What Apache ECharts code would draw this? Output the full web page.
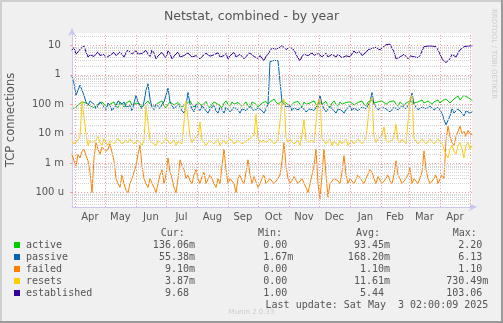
<!DOCTYPE html>
<html>
<head>
<meta charset="utf-8">
<script src="https://cdn.jsdelivr.net/npm/echarts@6/dist/echarts.min.js"></script>
<style>
  html, body { margin: 0; padding: 0; background: #f0f0f0; }
  #chart { width: 503px; height: 323px; }
</style>
</head>
<body>
<div id="chart"></div>
<script>
// ---- time frame: 400 days ending at the last update, one sample every 2 days ----
const rangeStart = Date.UTC(2024, 2, 29, 2, 0, 0);
const rangeEnd = Date.UTC(2025, 4, 3, 2, 0, 0);
const sampleStepDays = 2;

// month boundaries (grid lines) and month names (labels between them)
const monthStarts = ['2024-04-01', '2024-05-01', '2024-06-01', '2024-07-01', '2024-08-01',
  '2024-09-01', '2024-10-01', '2024-11-01', '2024-12-01', '2025-01-01', '2025-02-01',
  '2025-03-01', '2025-04-01', '2025-05-01'];
const monthNames = ['Apr', 'May', 'Jun', 'Jul', 'Aug', 'Sep', 'Oct', 'Nov', 'Dec', 'Jan', 'Feb', 'Mar', 'Apr'];

// logarithmic y scale: decades with their SI labels (unit slot kept blank for plain numbers)
const decadeExponents = [-4, -3, -2, -1, 0, 1];
const decadeLabels = ['100 u', '1 m', '10 m', '100 m', '1 ', '10 '];

// ---- series values (TCP connections) ----
const active = [
  0.07, 0.06, 0.08, 0.095, 0.1, 0.12, 0.13, 0.11, 0.12, 0.09, 0.1, 0.075, 0.08, 0.1, 0.09, 0.12, 0.11, 0.085, 0.08, 0.1,
  0.1, 0.12, 0.09, 0.075, 0.12, 0.1, 0.08, 0.11, 0.1, 0.13, 0.09, 0.08, 0.11, 0.125, 0.1, 0.08, 0.09, 0.11, 0.13, 0.1,
  0.1, 0.085, 0.08, 0.11, 0.11, 0.13, 0.09, 0.075, 0.1, 0.12, 0.12, 0.095, 0.09, 0.115, 0.1, 0.08, 0.08, 0.1, 0.11, 0.13,
  0.1, 0.08, 0.09, 0.115, 0.11, 0.09, 0.1, 0.125, 0.09, 0.075, 0.1, 0.12, 0.12, 0.1, 0.09, 0.075, 0.11, 0.13, 0.1, 0.085,
  0.12, 0.1, 0.09, 0.115, 0.11, 0.085, 0.1, 0.12, 0.09, 0.075, 0.12, 0.135, 0.1, 0.08, 0.09, 0.11, 0.11, 0.125, 0.1, 0.12,
  0.13, 0.15, 0.12, 0.1, 0.11, 0.13, 0.14, 0.11, 0.1, 0.085, 0.09, 0.115, 0.11, 0.125, 0.1, 0.08, 0.12, 0.1, 0.09, 0.11,
  0.11, 0.13, 0.1, 0.08, 0.12, 0.1, 0.1, 0.125, 0.09, 0.075, 0.11, 0.13, 0.1, 0.085, 0.12, 0.1, 0.09, 0.115, 0.1, 0.12,
  0.12, 0.095, 0.09, 0.115, 0.11, 0.13, 0.1, 0.085, 0.12, 0.14, 0.14, 0.11, 0.1, 0.12, 0.11, 0.13, 0.12, 0.1, 0.1, 0.125,
  0.11, 0.13, 0.1, 0.085, 0.12, 0.14, 0.09, 0.11, 0.11, 0.13, 0.13, 0.11, 0.1, 0.12, 0.12, 0.14, 0.11, 0.095, 0.13, 0.15,
  0.1, 0.12, 0.12, 0.14, 0.11, 0.13, 0.12, 0.15, 0.13, 0.11, 0.12, 0.15, 0.16, 0.19, 0.14, 0.17, 0.2, 0.18, 0.17, 0.15,
  0.136];
const passive = [
  0.9, 0.5, 0.2, 0.3, 0.45, 0.3, 0.2, 0.12, 0.09, 0.13, 0.15, 0.1, 0.07, 0.09, 0.12, 0.1, 0.08, 0.065, 0.11, 0.09,
  0.06, 0.075, 0.09, 0.13, 0.14, 0.1, 0.12, 0.08, 0.07, 0.09, 0.06, 0.11, 0.2, 0.12, 0.09, 0.07, 0.12, 0.3, 0.5, 0.15,
  0.08, 0.065, 0.1, 0.085, 0.07, 0.1, 0.12, 0.2, 0.35, 0.12, 0.09, 0.07, 0.06, 0.1, 0.08, 0.06, 0.05, 0.09, 0.25, 0.1,
  0.07, 0.055, 0.1, 0.075, 0.06, 0.09, 0.08, 0.06, 0.05, 0.07, 0.07, 0.09, 0.06, 0.05, 0.08, 0.065, 0.05, 0.08, 0.07, 0.055,
  0.06, 0.08, 0.09, 0.065, 0.05, 0.07, 0.08, 0.06, 0.06, 0.085, 0.09, 0.06, 0.06, 0.075, 0.08, 0.06, 0.05, 0.07, 0.1, 2.8,
  3.0, 3.1, 3.2, 3.0, 2.8, 0.12, 0.1, 0.08, 0.07, 0.09, 0.06, 0.075, 0.08, 0.065, 0.06, 0.08, 0.07, 0.055, 0.05, 0.07,
  0.08, 0.06, 0.06, 0.1, 0.2, 0.1, 0.07, 0.055, 0.06, 0.085, 0.08, 0.06, 0.05, 0.07, 0.08, 0.06, 0.05, 0.065, 0.07, 0.09,
  0.06, 0.075, 0.08, 0.06, 0.06, 0.08, 0.09, 0.07, 0.07, 0.12, 0.25, 0.1, 0.08, 0.065, 0.06, 0.08, 0.09, 0.07, 0.07, 0.055,
  0.06, 0.08, 0.08, 0.065, 0.07, 0.09, 0.09, 0.07, 0.06, 0.12, 0.24, 0.1, 0.08, 0.065, 0.06, 0.08, 0.09, 0.07, 0.07, 0.085,
  0.08, 0.065, 0.06, 0.08, 0.09, 0.05, 0.03, 0.02, 0.02, 0.04, 0.07, 0.05, 0.05, 0.07, 0.08, 0.05, 0.04, 0.06, 0.07, 0.05,
  0.055];
const failed = [
  0.002, 0.0012, 0.0008, 0.002, 0.0015, 0.0025, 0.003, 0.0018, 0.0012, 0.0005, 0.0001, 0.0015, 0.005, 0.003, 0.002, 0.0035, 0.004, 0.0025, 0.003, 0.0045,
  0.004, 0.0012, 0.0003, 0.0002, 0.00015, 0.0004, 0.0002, 0.00012, 0.0001, 0.0002, 0.0003, 0.0005, 0.0008, 0.002, 0.004, 0.0008, 0.0003, 0.0002, 0.00015, 0.0003,
  0.0003, 0.00015, 0.0001, 0.0002, 0.0004, 0.0006, 0.0002, 0.0004, 0.0015, 0.0005, 0.0003, 0.00015, 0.0001, 0.0003, 0.0013, 0.0008, 0.0006, 0.0003, 0.0004, 0.00025,
  0.0002, 0.0004, 0.0006, 0.0003, 0.0002, 0.00035, 0.0005, 0.0002, 0.0002, 0.0004, 0.0003, 0.0002, 0.00015, 0.0003, 0.0002, 0.0008, 0.003, 0.0006, 0.0002, 0.0003,
  0.0003, 0.0002, 0.0001, 0.0003, 0.0004, 0.00025, 0.0002, 0.0005, 0.0013, 0.0004, 0.0002, 0.00035, 0.0003, 0.00015, 0.0002, 0.0003, 0.0004, 0.0002, 0.0002, 0.0003,
  0.0003, 0.0002, 0.0002, 0.0003, 0.0004, 0.0012, 0.005, 0.0008, 0.0003, 0.0002, 0.0002, 0.00035, 0.0004, 0.0002, 0.0002, 0.0003, 0.0003, 0.00015, 0.0001, 0.0002,
  0.0002, 0.0008, 0.003, 0.0002, 0.00006, 0.0004, 0.003, 0.0004, 0.00007, 0.0002, 0.0002, 0.0003, 0.0003, 0.00025, 0.0002, 0.0005, 0.0018, 0.0004, 0.0002, 0.0003,
  0.0003, 0.0002, 0.0002, 0.0004, 0.0004, 0.00025, 0.0002, 0.0003, 0.0003, 0.0006, 0.0005, 0.0003, 0.0002, 0.00035, 0.0003, 0.0002, 0.0002, 0.0003, 0.0004, 0.00025,
  0.0002, 0.0004, 0.0012, 0.0004, 0.0003, 0.0002, 0.0002, 0.0003, 0.0004, 0.0007, 0.0002, 0.0003, 0.0003, 0.0002, 0.0002, 0.0005, 0.0026, 0.0006, 0.0003, 0.0002,
  0.0002, 0.0003, 0.0004, 0.0002, 0.0002, 0.0004, 0.0003, 0.006, 0.018, 0.008, 0.005, 0.004, 0.008, 0.012, 0.018, 0.01, 0.012, 0.008, 0.013, 0.01,
  0.0091];
const resets = [
  0.006, 0.0045, 0.005, 0.006, 0.008, 0.13, 0.14, 0.01, 0.004, 0.006, 0.005, 0.0045, 0.006, 0.008, 0.005, 0.004, 0.007, 0.005, 0.004, 0.006,
  0.006, 0.0045, 0.005, 0.007, 0.006, 0.0045, 0.004, 0.006, 0.005, 0.0065, 0.006, 0.0045, 0.005, 0.006, 0.005, 0.004, 0.006, 0.09, 0.09, 0.006,
  0.005, 0.0045, 0.004, 0.006, 0.006, 0.0045, 0.005, 0.007, 0.006, 0.0045, 0.005, 0.006, 0.004, 0.0055, 0.006, 0.0045, 0.005, 0.13, 0.15, 0.008,
  0.005, 0.0065, 0.006, 0.009, 0.025, 0.006, 0.005, 0.004, 0.004, 0.006, 0.006, 0.0045, 0.005, 0.0065, 0.004, 0.005, 0.006, 0.0045, 0.005, 0.007,
  0.007, 0.0045, 0.005, 0.006, 0.006, 0.0045, 0.004, 0.0055, 0.005, 0.007, 0.006, 0.009, 0.045, 0.007, 0.005, 0.0045, 0.006, 0.005, 0.005, 0.0065,
  0.006, 0.0045, 0.005, 0.006, 0.006, 0.12, 0.15, 0.008, 0.005, 0.0065, 0.006, 0.0045, 0.005, 0.006, 0.004, 0.009, 0.03, 0.006, 0.005, 0.0045,
  0.006, 0.005, 0.005, 0.12, 0.15, 0.007, 0.006, 0.0045, 0.005, 0.0065, 0.004, 0.0055, 0.005, 0.004, 0.006, 0.0045, 0.005, 0.0065, 0.004, 0.005,
  0.006, 0.0045, 0.005, 0.0065, 0.006, 0.0045, 0.005, 0.007, 0.006, 0.13, 0.17, 0.008, 0.005, 0.0065, 0.006, 0.009, 0.017, 0.006, 0.005, 0.0045,
  0.006, 0.008, 0.021, 0.006, 0.005, 0.0065, 0.006, 0.0045, 0.005, 0.14, 0.2, 0.007, 0.006, 0.0045, 0.005, 0.0065, 0.006, 0.0045, 0.005, 0.0065,
  0.006, 0.0045, 0.005, 0.0065, 0.006, 0.0045, 0.005, 0.002, 0.0015, 0.003, 0.004, 0.0025, 0.002, 0.004, 0.005, 0.003, 0.0015, 0.004, 0.005, 0.003,
  0.0039];
const established = [
  7, 8.5, 5, 6, 7.5, 8, 9.5, 6, 4, 4.8, 5.5, 4.2, 5, 6, 4.5, 5.2, 5, 3.8, 4, 4.6,
  5, 5.8, 4.5, 3.9, 6, 5, 4, 5.6, 7, 6, 5, 4.3, 6.5, 5, 4.5, 5.3, 6, 6.8, 5, 4.2,
  7, 5.5, 3.5, 4.4, 5, 5.8, 4.5, 3.8, 6.5, 5.2, 3.5, 4.3, 5, 6, 4, 4.6, 4.5, 3.9, 5.5, 5,
  4, 3.6, 4.5, 5.2, 3.5, 4.2, 4, 5.4, 5, 4.3, 4, 4.8, 5, 5.6, 4, 3.7, 4.5, 5.3, 3.5, 4.4,
  5, 5.8, 4, 3.6, 5, 4.4, 3.5, 4.2, 4.5, 5.6, 5, 4.2, 4, 3.6, 4.5, 5.2, 3, 4.2, 5, 6.5,
  8, 7, 7.5, 8.2, 8.5, 10, 9, 7.2, 8, 8.8, 9.5, 7, 5, 3.8, 3, 4.2, 5, 5.8, 4.5, 3.9,
  5.5, 4.6, 4, 5.2, 5, 4.1, 4.5, 5.4, 4, 3.6, 5, 4.4, 4, 5, 4.5, 3.8, 3.5, 4.4, 5, 4.1,
  4, 6.5, 5.5, 4.8, 6, 4.5, 4, 5.8, 7, 7.8, 8, 9, 8.5, 7.5, 7, 8.2, 9.5, 10.5, 10, 11,
  12, 6, 3.5, 3.2, 4, 4.6, 5, 4.2, 3.5, 4.4, 5, 4.1, 4, 3.8, 4.5, 6.5, 9, 10, 9.5, 8.6,
  9.5, 10.2, 9, 7, 5, 3.5, 3, 2.6, 2.3, 3.5, 5, 5.5, 4, 5.5, 7, 8, 9, 8.5, 9.5, 9.2,
  9.68];

const seriesNames = ['active', 'passive', 'failed', 'resets', 'established'];
const seriesColors = ['#00cc00', '#0066b3', '#ff8000', '#ffcc00', '#330099'];
const seriesValues = [active, passive, failed, resets, established];

// legend statistics
const statCur = ['136.06m', '55.38m', '9.10m', '3.87m', '9.68 '];
const statMin = ['0.00 ', '1.67m', '0.00 ', '0.00 ', '1.00 '];
const statAvg = ['93.45m', '168.20m', '1.10m', '11.61m', '5.44 '];
const statMax = ['2.20 ', '6.13 ', '1.10 ', '730.49m', '103.06 '];
const statHeaders = ['Cur:', 'Min:', 'Avg:', 'Max:'];
const lastUpdate = 'Last update: Sat May  3 02:00:09 2025';

// ---- build ----
const DAY = 86400000;
const toTime = s => Date.parse(s + 'T00:00:00Z');
const monthTimes = monthStarts.map(toTime);
const midMonths = monthNames.map((_, i) => (monthTimes[i] + monthTimes[i + 1]) / 2);
const midMonthName = new Map(midMonths.map((t, i) => [t, monthNames[i]]));
const decadeName = new Map(decadeExponents.map((e, i) => [e, decadeLabels[i]]));

const sampleTime = i => rangeStart + i * sampleStepDays * DAY;
const toSeriesData = vals => vals.map((v, i) => [sampleTime(i), Math.log10(v)]);

// minor log grid: 2..9 x every decade inside the visible range
const minorLevels = [];
for (let e = -5; e <= 1; e++) {
  for (let k = 2; k <= 9; k++) minorLevels.push(Math.log10(k) + e);
}

const yMin = -4.49, yMax = 1.42;
const textGray = '#555555';
const axisBlue = '#c8c8f2';

const gridSeries = [
  {
    name: 'minorGrid', type: 'line', data: [], silent: true, z: 1,
    markLine: {
      silent: true, symbol: 'none', animation: false, label: { show: false },
      lineStyle: { color: '#d4d4d4', type: [1, 1], width: 1 },
      data: minorLevels.filter(v => v > yMin && v < yMax).map(v => ({ yAxis: v }))
    }
  },
  {
    name: 'majorGrid', type: 'line', data: [], silent: true, z: 1,
    markLine: {
      silent: true, symbol: 'none', animation: false, label: { show: false },
      lineStyle: { color: '#f2a0a0', type: [1, 2], width: 1 },
      data: decadeExponents.map(e => ({ yAxis: e }))
        .concat(monthTimes.map(t => ({ xAxis: t })))
    }
  }
];

const dataSeries = seriesNames.map((name, i) => ({
  name, type: 'line', showSymbol: false, symbol: 'none', symbolSize: 0, z: 3,
  data: toSeriesData(seriesValues[i]),
  lineStyle: { color: seriesColors[i], width: 1, join: 'round', cap: 'round' },
  itemStyle: { color: seriesColors[i] },
  emphasis: { disabled: true }
}));

const mono = 'DejaVu Sans Mono';
const graphics = [];
// frame
graphics.push({ type: 'rect', shape: { x: 0, y: 0, width: 503, height: 2 }, style: { fill: '#cfcfcf' }, silent: true });
graphics.push({ type: 'rect', shape: { x: 0, y: 0, width: 2, height: 323 }, style: { fill: '#cfcfcf' }, silent: true });
graphics.push({ type: 'rect', shape: { x: 0, y: 321, width: 503, height: 2 }, style: { fill: '#9a9a9a' }, silent: true });
graphics.push({ type: 'rect', shape: { x: 501, y: 0, width: 2, height: 323 }, style: { fill: '#9a9a9a' }, silent: true });
// legend statistics
const colRight = [195, 293.3, 390, 488.3];
const headerLeft = [160.7, 258, 356, 452.7];
statHeaders.forEach((h, c) => graphics.push({
  type: 'text', x: headerLeft[c], y: 233, silent: true,
  style: { text: h, font: '10px "' + mono + '"', fill: textGray, align: 'left', verticalAlign: 'middle' }
}));
[statCur, statMin, statAvg, statMax].forEach((col, c) => col.forEach((s, r) => graphics.push({
  type: 'text', x: colRight[c], y: 245 + r * 12, silent: true,
  style: { text: s, font: '10px "' + mono + '"', fill: textGray, align: 'right', verticalAlign: 'middle' }
})));
graphics.push({
  type: 'text', x: 488.3, y: 305, silent: true,
  style: { text: lastUpdate, font: '10px "' + mono + '"', fill: textGray, align: 'right', verticalAlign: 'middle' }
});
graphics.push({
  type: 'text', x: 251.5, y: 312.5, silent: true,
  style: { text: 'Munin 2.0.33', font: '7px "DejaVu Sans"', fill: '#cccccc', align: 'center', verticalAlign: 'middle' }
});
graphics.push({
  type: 'text', x: 493.5, y: 54, rotation: -Math.PI / 2, silent: true,
  style: { text: 'RRDTOOL / TOBI OETIKER', font: '7px "DejaVu Sans"', fill: '#cccccc', align: 'center', verticalAlign: 'middle' }
});

const chart = echarts.init(document.getElementById('chart'), null, { renderer: 'canvas' });
chart.setOption({
  animation: false,
  backgroundColor: '#f0f0f0',
  title: {
    text: 'Netstat, combined - by year', left: 'center', top: 5,
    textStyle: { fontFamily: 'DejaVu Sans', fontSize: 12.5, fontWeight: 'normal', color: textGray }
  },
  grid: {
    left: 72, right: 31, top: 33, bottom: 116, containLabel: false, outerBoundsMode: 'none',
    show: true, backgroundColor: '#ffffff', borderWidth: 0
  },
  legend: {
    orient: 'vertical', left: 14, top: 239, padding: 0, itemGap: 0,
    itemWidth: 6, itemHeight: 6, icon: 'rect', selectedMode: false,
    data: seriesNames,
    textStyle: { fontFamily: mono, fontSize: 10, color: textGray, lineHeight: 12, padding: [0, 0, 0, 1] }
  },
  xAxis: {
    type: 'value', min: rangeStart, max: rangeEnd,
    axisLine: { show: true, onZero: false, lineStyle: { color: axisBlue, width: 1 }, symbol: ['none', 'arrow'], symbolSize: [6, 8], symbolOffset: [0, 5] },
    axisTick: { show: false },
    splitLine: { show: false },
    axisLabel: {
      customValues: midMonths, margin: 5,
      formatter: v => midMonthName.get(v) || '',
      fontFamily: 'DejaVu Sans', fontSize: 10, color: textGray
    }
  },
  yAxis: {
    type: 'value', min: yMin, max: yMax,
    name: 'TCP connections', nameLocation: 'middle', nameGap: 55, nameRotate: 90,
    nameTextStyle: { fontFamily: 'DejaVu Sans', fontSize: 11.5, color: textGray },
    axisLine: { show: true, onZero: false, lineStyle: { color: axisBlue, width: 1 }, symbol: ['none', 'arrow'], symbolSize: [6, 8], symbolOffset: [0, 5] },
    axisTick: { show: true, customValues: decadeExponents, length: 2, lineStyle: { color: '#f2a0a0' } },
    splitLine: { show: false },
    axisLabel: {
      customValues: decadeExponents, margin: 8,
      formatter: v => decadeName.get(Math.round(v)) || '',
      fontFamily: 'DejaVu Sans', fontSize: 10, color: textGray
    }
  },
  graphic: graphics,
  series: gridSeries.concat(dataSeries)
});
</script>
</body>
</html>
